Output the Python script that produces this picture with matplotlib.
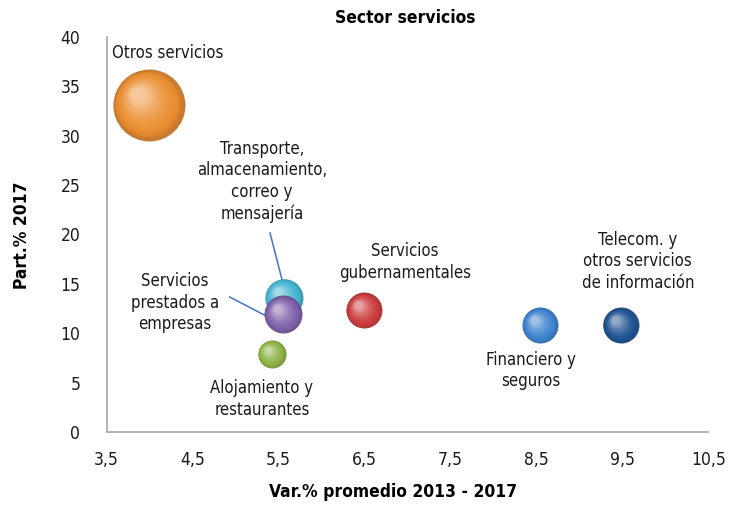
import numpy as np
import matplotlib
matplotlib.use("Agg")
import matplotlib.pyplot as plt
from matplotlib import colors as mcolors
from matplotlib import transforms

plt.rcParams['font.family'] = ['DejaVu Sans']
plt.rcParams['font.stretch'] = 'condensed'

# --- datos ---
sectores = ["Otros servicios",
            "Transporte,\nalmacenamiento,\ncorreo y\nmensajería",
            "Servicios\nprestados a\nempresas",
            "Alojamiento y\nrestaurantes",
            "Servicios\ngubernamentales",
            "Financiero y\nseguros",
            "Telecom. y\notros servicios\nde información"]
var_prom = [3.99, 5.56, 5.55, 5.42, 6.49, 8.54, 9.48]
part_2017 = [33.1, 13.6, 11.9, 7.9, 12.3, 10.8, 10.8]
tam_burbuja = [36, 19, 19, 14, 18, 18, 18]   # radio aprox. en pixeles
colores = ["#eb8d30", "#42b6d2", "#7f60aa", "#8db444", "#cc3b3c", "#3d82cf", "#1f5292"]

# posiciones de etiquetas (en datos)
etq_x = [3.56, 5.305, 4.29, 5.305, 6.97, 8.44, 9.68]
etq_y = [38.4, 25.4, 13.1, 3.35, 17.2, 6.2, 17.3]

x_ticks = [3.5, 4.5, 5.5, 6.5, 7.5, 8.5, 9.5, 10.5]
y_ticks = [0, 5, 10, 15, 20, 25, 30, 35, 40]

fig = plt.figure(figsize=(7.31, 5.05), dpi=100)
ax = fig.add_axes([0.146, 0.1446, 0.823, 0.7824])
ax.set_xlim(3.5, 10.5)
ax.set_ylim(0, 40)


def esfera(ax, x, y, r_px, color, z):
    # simula una esfera con capas de circulos cada vez mas claros
    base = np.array(mcolors.to_rgb(color))
    oscuro = base * 0.8
    claro = base + (1 - base) * 0.55
    n = 30
    r_pt = r_px * 0.72
    for k in range(n):
        f = k / (n - 1)
        rr = r_pt * (1 - 0.8 * f)
        if f < 0.15:
            c = oscuro + (base - oscuro) * (f / 0.15)
        else:
            c = base + (claro - base) * ((f - 0.15) / 0.85) ** 1.5
        off = transforms.offset_copy(ax.transData, fig=fig,
                                     x=-0.3 * r_pt * f, y=0.3 * r_pt * f, units='points')
        ax.scatter([x], [y], s=(2 * rr) ** 2, color=c, linewidths=0,
                   transform=off, zorder=z, alpha=0.9 if k == 0 else 0.5)


orden = [0, 3, 4, 5, 6, 1, 2]
for i in orden:
    esfera(ax, var_prom[i], part_2017[i], tam_burbuja[i], colores[i], 3 + orden.index(i))

for i, t in enumerate(sectores):
    ha = 'left' if i == 0 else 'center'
    ax.text(etq_x[i], etq_y[i], t, ha=ha, va='center', fontsize=12,
            linespacing=1.25, color='#1a1a1a')

# lineas guia
ax.plot([5.40, 5.54], [20.15, 15.4], color='#4472c4', lw=1.1, zorder=2)
ax.plot([4.93, 5.375], [13.67, 11.65], color='#4472c4', lw=1.1, zorder=2)

ax.set_xticks(x_ticks)
ax.set_xticklabels([f"{v:.1f}".replace('.', ',') for v in x_ticks])
ax.set_yticks(y_ticks)
ax.tick_params(length=0, labelsize=12.5, colors='#1a1a1a')
ax.tick_params(axis='y', pad=19)
ax.tick_params(axis='x', pad=14)

for s in ['top', 'right']:
    ax.spines[s].set_visible(False)
for s in ['left', 'bottom']:
    ax.spines[s].set_color('#a6a6a6')
    ax.spines[s].set_linewidth(1.2)

fig.text(393 / 731, 1 - 492 / 505, "Var.% promedio 2013 - 2017", ha='center', va='center',
         fontsize=12.5, fontweight='bold')
fig.text(22 / 731, 1 - 235 / 505, "Part.% 2017", ha='center', va='center', rotation=90,
         fontsize=12.5, fontweight='bold')
fig.text(0.555, 0.964, "Sector servicios", ha='center', va='center',
         fontsize=12.5, fontweight='bold')

fig.savefig("out.png", dpi=100)
